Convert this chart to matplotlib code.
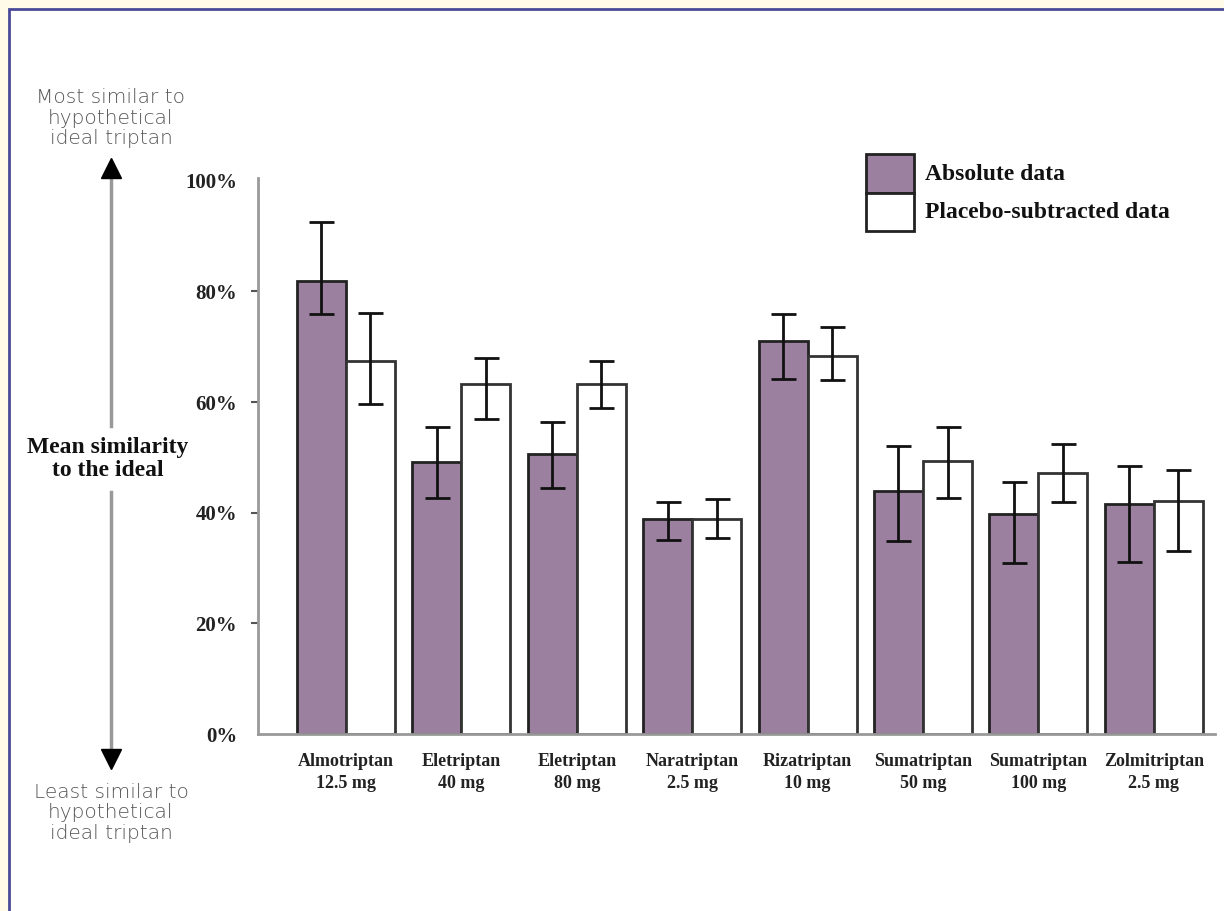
import matplotlib.pyplot as plt
import matplotlib.patches as mpatches
import numpy as np

drugs = ['Almotriptan\n12.5 mg', 'Eletriptan\n40 mg', 'Eletriptan\n80 mg', 'Naratriptan\n2.5 mg',
         'Rizatriptan\n10 mg', 'Sumatriptan\n50 mg', 'Sumatriptan\n100 mg', 'Zolmitriptan\n2.5 mg']

absolute = [81.9, 49.2, 50.6, 38.8, 71.1, 44.0, 39.7, 41.5]
absolute_hi = [92.6, 55.5, 56.4, 42.0, 75.9, 52.1, 45.6, 48.5]
absolute_lo = [75.9, 42.7, 44.5, 35.0, 64.1, 34.8, 30.9, 31.1]

placebo = [67.5, 63.2, 63.2, 38.8, 68.4, 49.4, 47.2, 42.2]
placebo_hi = [76.1, 68.0, 67.5, 42.5, 73.6, 55.5, 52.4, 47.8]
placebo_lo = [59.6, 56.9, 58.9, 35.5, 63.9, 42.7, 42.0, 33.0]

yticks = [0, 20, 40, 60, 80, 100]

W, H = 1224, 911
fig = plt.figure(figsize=(W / 100, H / 100), dpi=100)
fig.patch.set_facecolor('#fffbe8')

# white panel with blue frame on top and left
fig.patches.append(mpatches.Rectangle((9 / W, -0.05), 1.1, 1 - 9 / H + 0.05, transform=fig.transFigure,
                                      facecolor='white', edgecolor='#4a4a9a', linewidth=2, zorder=-5))

ax = fig.add_axes([258 / W, (H - 734) / H, (1215 - 258) / W, (734 - 178) / H])
ax.set_facecolor('none')
ax.set_zorder(2)

x = np.arange(len(drugs))
bw = 0.425
purple = '#9c809f'

a = np.array(absolute)
p = np.array(placebo)
ax.bar(x - bw / 2, a, width=bw, color=purple, edgecolor='#222222', linewidth=2, zorder=2)
ax.bar(x + bw / 2, p, width=bw, color='white', edgecolor='#333333', linewidth=2, zorder=2)

ax.errorbar(x - bw / 2, a, yerr=[a - np.array(absolute_lo), np.array(absolute_hi) - a],
            fmt='none', ecolor='#111111', elinewidth=2, capsize=9, capthick=2, zorder=3)
ax.errorbar(x + bw / 2, p, yerr=[p - np.array(placebo_lo), np.array(placebo_hi) - p],
            fmt='none', ecolor='#111111', elinewidth=2, capsize=9, capthick=2, zorder=3)

ax.set_xlim(-0.762, 7.53)
ax.set_ylim(0, 100.5)

serif = 'Liberation Serif'
ax.set_yticks(yticks)
ax.set_yticklabels([f'{t}%' for t in yticks], fontfamily=serif, fontweight='bold', fontsize=15, color='#222222')
ax.tick_params(axis='y', length=5, width=1.5, color='#555555', pad=10)
for i in (0, len(yticks) - 1):
    ax.yaxis.get_major_ticks()[i].tick1line.set_visible(False)

ax.set_xticks(x)
ax.set_xticklabels(drugs, fontfamily=serif, fontweight='bold', fontsize=13, color='#222222', linespacing=1.35)
ax.tick_params(axis='x', length=0, pad=14)

for s in ('top', 'right'):
    ax.spines[s].set_visible(False)
ax.spines['left'].set_color('#999999')
ax.spines['bottom'].set_color('#999999')
ax.spines['left'].set_linewidth(2)
ax.spines['bottom'].set_linewidth(2)

# legend drawn as two stacked boxes
def fx(px):
    return px / W

def fy(py):
    return 1 - py / H

fig.patches.append(mpatches.Rectangle((fx(866), fy(193)), 48 / W, 39 / H, transform=fig.transFigure,
                                      facecolor=purple, edgecolor='#222222', linewidth=2))
fig.patches.append(mpatches.Rectangle((fx(866), fy(231)), 48 / W, 38 / H, transform=fig.transFigure,
                                      facecolor='white', edgecolor='#222222', linewidth=2))
fig.text(fx(925), fy(174), 'Absolute data', fontfamily=serif, fontweight='bold', fontsize=17,
         va='center', ha='left', color='#111111')
fig.text(fx(925), fy(212), 'Placebo-subtracted data', fontfamily=serif, fontweight='bold', fontsize=17,
         va='center', ha='left', color='#111111')

# left side scale annotation
arrow_x = fx(111)
grey = '#999999'
fig.add_artist(plt.Line2D([arrow_x, arrow_x], [fy(172), fy(426)], transform=fig.transFigure,
                          color=grey, linewidth=2.5))
fig.add_artist(plt.Line2D([arrow_x, arrow_x], [fy(492), fy(755)], transform=fig.transFigure,
                          color=grey, linewidth=2.5))
fig.add_artist(plt.Line2D([arrow_x], [fy(168)], transform=fig.transFigure, marker='^',
                          markersize=14, color='black'))
fig.add_artist(plt.Line2D([arrow_x], [fy(759)], transform=fig.transFigure, marker='v',
                          markersize=14, color='black'))

fig.text(fx(108), fy(459), 'Mean similarity\nto the ideal', fontfamily=serif, fontweight='bold',
         fontsize=17, ha='center', va='center', color='#111111', linespacing=1.15)
fig.text(arrow_x, fy(118), 'Most similar to\nhypothetical\nideal triptan', fontfamily='DejaVu Sans',
         fontweight='light', fontsize=14.5, ha='center', va='center', color='#555555', linespacing=1.1)
fig.text(arrow_x, fy(813), 'Least similar to\nhypothetical\nideal triptan', fontfamily='DejaVu Sans',
         fontweight='light', fontsize=14.5, ha='center', va='center', color='#555555', linespacing=1.1)

fig.savefig('out.png', dpi=100, facecolor=fig.get_facecolor())
